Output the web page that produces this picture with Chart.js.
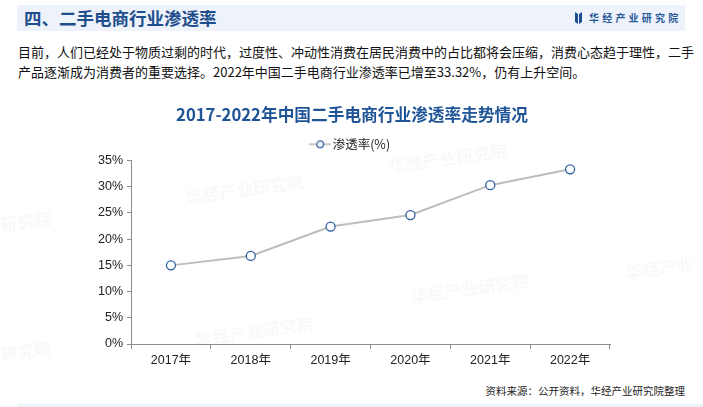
<!DOCTYPE html>
<html><head><meta charset="utf-8">
<script src="https://cdn.jsdelivr.net/npm/chart.js@4.4.0/dist/chart.umd.min.js"></script>
<style>
html,body{margin:0;padding:0;background:#fff;width:703px;height:407px;overflow:hidden;font-family:"Noto Sans CJK SC","Noto Sans",sans-serif;}
#band{position:absolute;left:17px;top:5px;width:668px;height:26px;background:#eef3fb;}
#htitle{position:absolute;left:24px;top:5px;height:26px;line-height:26px;font-size:17.5px;font-weight:bold;color:#1f4e8c;}
#logo{position:absolute;left:575px;top:12px;width:7px;height:12px;}
#logotxt{position:absolute;left:589px;top:9px;font-size:10px;font-weight:bold;color:#2a5a9a;letter-spacing:3.2px;line-height:18px;}
#para{position:absolute;left:18px;top:42px;width:690px;font-size:13px;line-height:19.5px;color:#111;white-space:nowrap;}
#src{position:absolute;right:18px;top:383px;font-size:10.5px;color:#222;}
#bot{position:absolute;left:17px;top:404px;width:686px;height:3px;background:#eef3fb;}
.wm{position:absolute;font-size:17px;font-weight:bold;color:rgba(200,205,215,0.13);transform:rotate(-8deg);white-space:nowrap;}
#wrap{position:absolute;left:0;top:100px;width:703px;height:272px;}
</style></head>
<body>
<div id="band"></div>
<div id="htitle">四、二手电商行业渗透率</div>
<svg id="logo" viewBox="0 0 7 12"><path d="M0 0 L3 2 L3 12 L0 10 Z" fill="#1f4e8c"/><path d="M7 0 L4 2 L4 12 L7 10 Z" fill="#1f4e8c"/></svg>
<div id="logotxt">华经产业研究院</div>
<div id="para">目前，人们已经处于物质过剩的时代，过度性、冲动性消费在居民消费中的占比都将会压缩，消费心态趋于理性，二手<br>产品逐渐成为消费者的重要选择。2022年中国二手电商行业渗透率已增至33.32%，仍有上升空间。</div>
<div class="wm" style="left:185px;top:176px;">华经产业研究院</div>
<div class="wm" style="left:388px;top:145px;">华经产业研究院</div>
<div class="wm" style="left:410px;top:275px;">华经产业研究院</div>
<div class="wm" style="left:195px;top:318px;">华经产业研究院</div>
<div class="wm" style="left:625px;top:255px;">华经产业</div>
<div class="wm" style="left:0px;top:208px;">研究院</div>
<div class="wm" style="left:0px;top:338px;">研究院</div>
<div id="wrap"><canvas id="c"></canvas></div>
<div id="src">资料来源：公开资料，华经产业研究院整理</div>
<div id="bot"></div>
<script>
const categories = ["2017年","2018年","2019年","2020年","2021年","2022年"];
const seriesName = "渗透率(%)";
const penetration = [15.0, 16.8, 22.4, 24.6, 30.3, 33.32];
const yTicks = [0,5,10,15,20,25,30,35];

const legendIcon = document.createElement('canvas');
legendIcon.width = 22; legendIcon.height = 10;
(function(){
  const g = legendIcon.getContext('2d');
  g.strokeStyle = '#b4b4b4'; g.lineWidth = 1.5;
  g.beginPath(); g.moveTo(0,5); g.lineTo(22,5); g.stroke();
  g.beginPath(); g.arc(11,5,3.3,0,Math.PI*2);
  g.fillStyle = '#fff'; g.fill();
  g.strokeStyle = '#2e5fa3'; g.lineWidth = 1.3; g.stroke();
})();

new Chart(document.getElementById('c'), {
  type: 'line',
  data: {
    labels: categories,
    datasets: [{
      label: seriesName,
      data: penetration,
      borderColor: '#bdbdbd',
      borderWidth: 2,
      pointRadius: 4.5,
      pointBorderWidth: 1.3,
      pointBackgroundColor: '#ffffff',
      pointBorderColor: '#2e5fa3',
      tension: 0
    }]
  },
  options: {
    responsive: true,
    maintainAspectRatio: false,
    animation: false,
    layout: { padding: { left: 94, right: 93, top: 0, bottom: 0 } },
    plugins: {
      title: {
        display: true,
        text: '2017-2022年中国二手电商行业渗透率走势情况',
        color: '#1f5496',
        font: { size: 16.7, weight: 'bold', family: '"Noto Sans CJK SC", sans-serif' },
        padding: { top: 5, bottom: 6 }
      },
      legend: {
        display: true,
        labels: {
          usePointStyle: true,
          color: '#222',
          font: { size: 12.5, family: '"Noto Sans CJK SC", sans-serif' },
          padding: 7,
          generateLabels: (chart) => [{
            text: seriesName,
            pointStyle: legendIcon,
            fillStyle: '#fff',
            strokeStyle: '#2e5fa3',
            lineWidth: 0,
            hidden: false,
            datasetIndex: 0,
            fontColor: '#222'
          }]
        }
      },
      tooltip: { enabled: false }
    },
    scales: {
      x: {
        offset: true,
        grid: { display: true, offset: true, drawOnChartArea: false, drawTicks: true, tickLength: 5, color: '#8c8c8c' },
        border: { display: true, color: '#8c8c8c', width: 1 },
        ticks: { color: '#222', font: { size: 12.5, family: '"Liberation Sans","Noto Sans CJK SC", sans-serif' }, padding: 4 }
      },
      y: {
        min: 0, max: 35,
        afterBuildTicks: (axis) => { axis.ticks = yTicks.map(v => ({ value: v })); },
        grid: { display: true, drawOnChartArea: false, drawTicks: true, tickLength: 4, color: '#8c8c8c' },
        border: { display: true, color: '#8c8c8c', width: 1 },
        ticks: { color: '#222', font: { size: 12.5, family: '"Liberation Sans", sans-serif' }, padding: 4, callback: (v) => v + '%' }
      }
    }
  }
});
</script>
</body></html>
